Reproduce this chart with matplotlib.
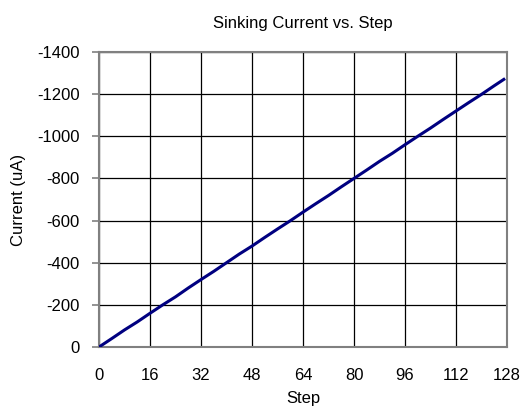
import matplotlib
matplotlib.use('Agg')
import matplotlib.pyplot as plt

# values (every 4th step, last step 127)
steps = [0, 4, 8, 12, 16, 20, 24, 28, 32, 36, 40, 44, 48, 52, 56, 60, 64,
         68, 72, 76, 80, 84, 88, 92, 96, 100, 104, 108, 112, 116, 120, 124, 127]
current = [0, -40, -81, -119, -160, -200, -238, -280, -320, -359, -400, -441,
           -479, -520, -560, -599, -640, -680, -719, -760, -800, -840, -881,
           -919, -960, -1000, -1039, -1080, -1120, -1160, -1199, -1240, -1270]

xticks = [0, 16, 32, 48, 64, 80, 96, 112, 128]
yticks = [0, -200, -400, -600, -800, -1000, -1200, -1400]

plt.rcParams['font.family'] = ['Liberation Sans', 'DejaVu Sans']
plt.rcParams['axes.unicode_minus'] = False

fig = plt.figure(figsize=(5.26, 4.12), dpi=100)
ax = fig.add_axes([99 / 526, 65 / 412, 408 / 526, 295 / 412])

ax.plot(steps, current, color='#000080', linewidth=2.2, zorder=3)

ax.set_xlim(0, 128)
ax.set_ylim(0, -1400)
ax.set_xticks(xticks)
ax.set_yticks(yticks)
ax.grid(True, color='black', linewidth=0.9)

for s in ax.spines.values():
    s.set_color('#808080')
    s.set_linewidth(1.5)

ax.tick_params(axis='x', length=0, pad=15, labelsize=12)
ax.tick_params(axis='y', length=5, color='#808080', width=1.2, pad=9, labelsize=12)

ax.set_title('Sinking Current vs. Step', fontsize=12, pad=17)
ax.set_xlabel('Step', fontsize=12, labelpad=6)
ax.set_ylabel('Current (uA)', fontsize=12, labelpad=8)

fig.savefig('out.png', dpi=100)
